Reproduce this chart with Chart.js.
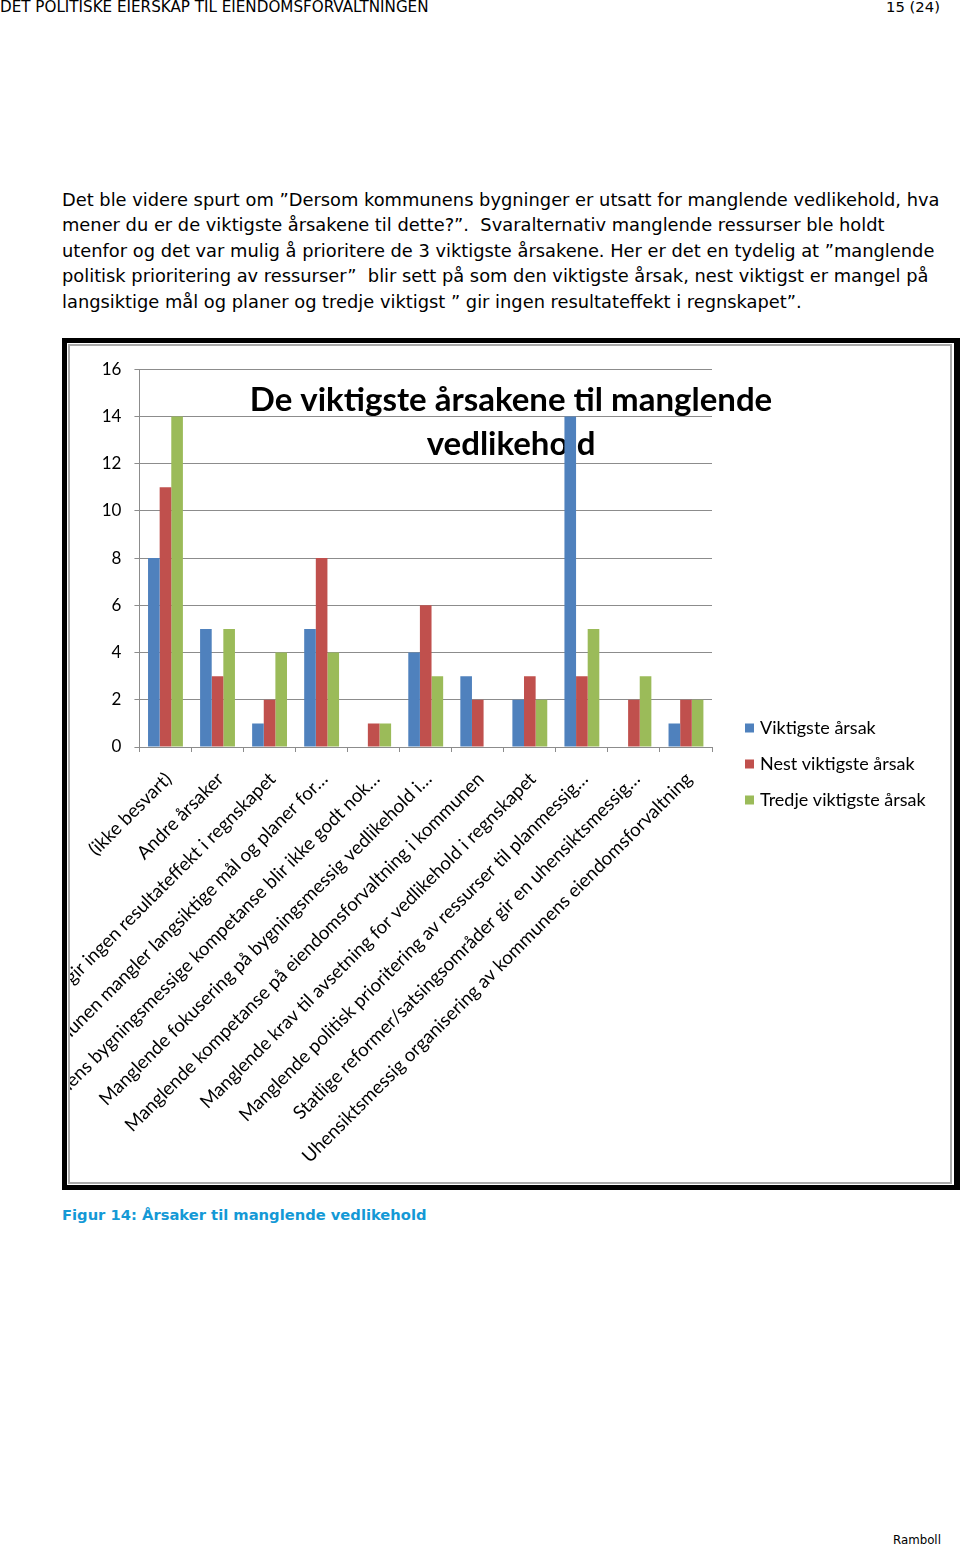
<!DOCTYPE html>
<html>
<head>
<meta charset="utf-8">
<script src="https://cdn.jsdelivr.net/npm/chart.js@4.4.1/dist/chart.umd.min.js"></script>
<style>
  body { margin: 0; width: 960px; height: 1548px; overflow: hidden; background: #fff; position: relative; font-family: "DejaVu Sans", Verdana, sans-serif; color: #000; }
  .abs { position: absolute; white-space: pre; line-height: 1; }
  .hdr { font-size: 13px; top: 0; }
  .para { font-size: 16.5px; left: 62px; }
  .frame { position: absolute; left: 62px; top: 338px; width: 898px; height: 852px; background: #000; }
  .inner { position: absolute; left: 67px; top: 343px; width: 887px; height: 842px; background: #fff; }
  .gray { position: absolute; left: 68px; top: 344px; width: 884px; height: 840px; border: 2px solid #a9a9a9; box-sizing: border-box; }
  #chart { position: absolute; left: 70px; top: 346px; }
  .caption { font-size: 15px; font-weight: bold; color: #1499d6; left: 62px; top: 1208px; }
  .foot { font-size: 12px; top: 1535px; left: 893px; }
</style>
</head>
<body>
<div class="abs hdr" id="h1" style="left:0">DET POLITISKE EIERSKAP TIL EIENDOMSFORVALTNINGEN</div>
<div class="abs hdr" id="h2" style="left:886px">15 (24)</div>

<div class="abs para" id="p1" style="top:191px">Det ble videre spurt om ”Dersom kommunens bygninger er utsatt for manglende vedlikehold, hva</div>
<div class="abs para" style="top:216px">mener du er de viktigste årsakene til dette?”.  Svaralternativ manglende ressurser ble holdt</div>
<div class="abs para" style="top:242px">utenfor og det var mulig å prioritere de 3 viktigste årsakene. Her er det en tydelig at ”manglende</div>
<div class="abs para" style="top:267px">politisk prioritering av ressurser”  blir sett på som den viktigste årsak, nest viktigst er mangel på</div>
<div class="abs para" style="top:293px">langsiktige mål og planer og tredje viktigst ” gir ingen resultateffekt i regnskapet”.</div>

<div class="frame"></div>
<div class="inner"></div>
<div class="gray"></div>
<canvas id="chart" width="880" height="836"></canvas>

<div class="abs caption" id="cap">Figur 14: Årsaker til manglende vedlikehold</div>
<div class="abs foot" id="foot">Ramboll</div>

<script>
// data
const categories = [
  '(ikke besvart)',
  'Andre årsaker',
  'Vedlikehold gir ingen resultateffekt i regnskapet',
  'Kommunen mangler langsiktige mål og planer for…',
  'Kommunens bygningsmessige kompetanse blir ikke godt nok…',
  'Manglende fokusering på bygningsmessig vedlikehold i…',
  'Manglende kompetanse på eiendomsforvaltning i kommunen',
  'Manglende krav til avsetning for vedlikehold i regnskapet',
  'Manglende politisk prioritering av ressurser til planmessig…',
  'Statlige reformer/satsingsområder gir en uhensiktsmessig…',
  'Uhensiktsmessig organisering av kommunens eiendomsforvaltning'
];
const seriesNames = ['Viktigste årsak', 'Nest viktigste årsak', 'Tredje viktigste årsak'];
const viktigste = [8, 5, 1, 5, 0, 4, 3, 2, 14, 0, 1];
const nestViktigste = [11, 3, 2, 8, 1, 6, 2, 3, 3, 2, 2];
const tredjeViktigste = [14, 5, 4, 4, 1, 3, 0, 2, 5, 3, 2];
const yMax = 16;
const yStep = 2;
const titleLines = ['De viktigste årsakene til manglende', 'vedlikehold'];

const colors = ['#4f81bd', '#c0504d', '#9bbb59'];
const gridColor = '#8c8c8c';
const chartFont = 'Lato, "Open Sans", sans-serif';

// fit html text lines to the widths measured on the reference
function fitWidth(el, target) {
  const size = parseFloat(getComputedStyle(el).fontSize);
  const w = el.getBoundingClientRect().width;
  return size * target / w;
}
document.getElementById('h1').style.fontSize = fitWidth(document.getElementById('h1'), 429) + 'px';
document.getElementById('h2').style.fontSize = fitWidth(document.getElementById('h2'), 54) + 'px';
const pSize = fitWidth(document.getElementById('p1'), 878);
document.querySelectorAll('.para').forEach(el => el.style.fontSize = pSize + 'px');
document.getElementById('cap').style.fontSize = fitWidth(document.getElementById('cap'), 365) + 'px';
document.getElementById('foot').style.fontSize = fitWidth(document.getElementById('foot'), 48) + 'px';

// title sits inside the plot, behind the bars
const overlayTitle = {
  id: 'overlayTitle',
  beforeDatasetsDraw(chart) {
    const c = chart.ctx;
    c.save();
    c.font = 'bold 33px ' + chartFont;
    c.fillStyle = '#000';
    c.textAlign = 'center';
    c.textBaseline = 'alphabetic';
    c.fillText(titleLines[0], 441, 65);
    c.fillText(titleLines[1], 441, 109);
    c.restore();
  }
};

// legend to the right of the plot, drawn from the datasets
const sideLegend = {
  id: 'sideLegend',
  afterDraw(chart) {
    const c = chart.ctx;
    const x = chart.chartArea.right + 33;
    c.save();
    c.font = '18px ' + chartFont;
    c.textBaseline = 'middle';
    c.textAlign = 'left';
    chart.data.datasets.forEach((ds, i) => {
      const y = 382 + i * 36;
      c.fillStyle = ds.backgroundColor;
      c.fillRect(x, y - 4.5, 9, 9);
      c.fillStyle = '#000';
      c.fillText(ds.label, x + 15, y);
    });
    c.restore();
  }
};

const ctx = document.getElementById('chart').getContext('2d');
new Chart(ctx, {
  type: 'bar',
  data: {
    labels: categories,
    datasets: [
      { label: seriesNames[0], data: viktigste, backgroundColor: colors[0] },
      { label: seriesNames[1], data: nestViktigste, backgroundColor: colors[1] },
      { label: seriesNames[2], data: tredjeViktigste, backgroundColor: colors[2] }
    ]
  },
  options: {
    responsive: false,
    animation: false,
    devicePixelRatio: 1,
    datasets: {
      bar: { categoryPercentage: 0.67, barPercentage: 1, borderWidth: 0 }
    },
    layout: { padding: { top: 20, right: 238, bottom: 0, left: 0 } },
    plugins: {
      title: { display: false },
      tooltip: { enabled: false },
      legend: { display: false }
    },
    scales: {
      x: {
        grid: { offset: true, drawOnChartArea: false, color: gridColor, tickLength: 5 },
        border: { color: gridColor },
        ticks: {
          autoSkip: false,
          maxRotation: 45,
          minRotation: 45,
          padding: 16,
          labelOffset: 3,
          color: '#000',
          font: { family: chartFont, size: 18.7 }
        },
        afterFit(scale) { scale.height = 435; }
      },
      y: {
        min: 0,
        max: yMax,
        grid: { color: gridColor, tickLength: 5 },
        border: { color: gridColor },
        ticks: {
          stepSize: yStep,
          padding: 13,
          color: '#000',
          font: { family: chartFont, size: 17 }
        },
        afterFit(scale) { scale.width = 67; }
      }
    }
  },
  plugins: [overlayTitle, sideLegend]
});
</script>
</body>
</html>
